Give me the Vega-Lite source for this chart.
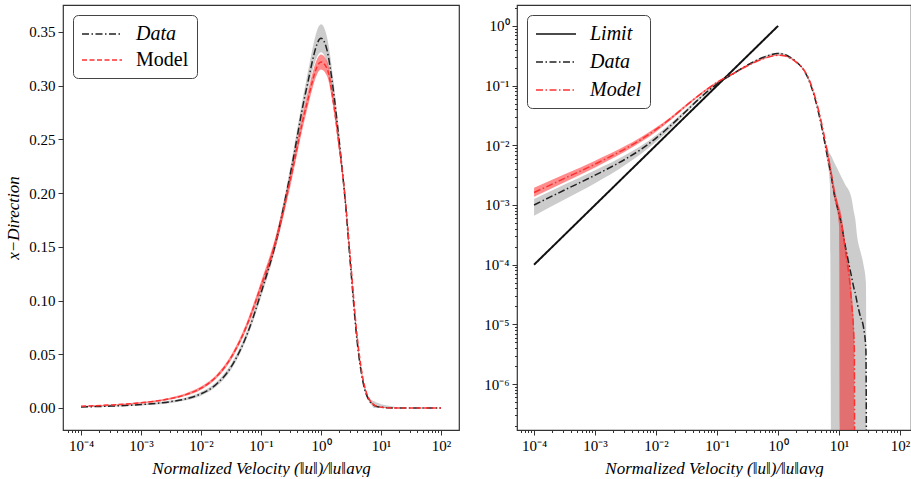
{
  "$schema": "https://vega.github.io/schema/vega-lite/v6.json",
  "background": "white",
  "padding": {"left": 4, "top": 4, "right": 0, "bottom": 0},
  "spacing": 23,
  "resolve": {"scale": {"color": "independent", "strokeDash": "independent"}, "legend": {"color": "independent", "strokeDash": "independent"}},
  "config": {
    "font": "Liberation Serif",
    "view": {"stroke": "#333", "strokeWidth": 1.2},
    "axis": {"grid": false, "domain": false, "labelFont": "Liberation Serif", "labelFontSize": 15, "labelColor": "black", "tickColor": "#333", "tickSize": 5, "labelPadding": 3, "titleFont": "Liberation Serif", "titleFontWeight": "normal", "titleColor": "black"}
  },
  "datasets": {
    "pdf": [
      {"x": 0.0001, "Data": 0.00100, "Model": 0.00162, "dlo": 0.00066, "dhi": 0.00126, "mlo": 0.00138, "mhi": 0.00194},
      {"x": 0.000316, "Data": 0.00178, "Model": 0.00279, "dlo": 0.00123, "dhi": 0.00221, "mlo": 0.0024, "mhi": 0.00326},
      {"x": 0.001, "Data": 0.00316, "Model": 0.00484, "dlo": 0.00231, "dhi": 0.00382, "mlo": 0.00426, "mhi": 0.00552},
      {"x": 0.00316, "Data": 0.00589, "Model": 0.00881, "dlo": 0.00471, "dhi": 0.00689, "mlo": 0.00793, "mhi": 0.00978},
      {"x": 0.005623, "Data": 0.00851, "Model": 0.01245, "dlo": 0.00715, "dhi": 0.0097, "mlo": 0.01133, "mhi": 0.01363},
      {"x": 0.01, "Data": 0.0132, "Model": 0.0184, "dlo": 0.01148, "dhi": 0.01478, "mlo": 0.01693, "mhi": 0.01987},
      {"x": 0.0178, "Data": 0.0219, "Model": 0.0288, "dlo": 0.0197, "dhi": 0.0239, "mlo": 0.0271, "mhi": 0.0305},
      {"x": 0.0316, "Data": 0.038, "Model": 0.0468, "dlo": 0.0353, "dhi": 0.0407, "mlo": 0.0445, "mhi": 0.0491},
      {"x": 0.0562, "Data": 0.066, "Model": 0.075, "dlo": 0.0627, "dhi": 0.0693, "mlo": 0.072, "mhi": 0.078},
      {"x": 0.1, "Data": 0.107, "Model": 0.1135, "dlo": 0.1027, "dhi": 0.1113, "mlo": 0.1095, "mhi": 0.1175},
      {"x": 0.178, "Data": 0.155, "Model": 0.156, "dlo": 0.150, "dhi": 0.160, "mlo": 0.151, "mhi": 0.161},
      {"x": 0.316, "Data": 0.221, "Model": 0.215, "dlo": 0.215, "dhi": 0.227, "mlo": 0.209, "mhi": 0.221},
      {"x": 0.562, "Data": 0.295, "Model": 0.280, "dlo": 0.288, "dhi": 0.303, "mlo": 0.273, "mhi": 0.287},
      {"x": 1.0, "Data": 0.344, "Model": 0.322, "dlo": 0.331, "dhi": 0.357, "mlo": 0.315, "mhi": 0.329},
      {"x": 1.259, "Data": 0.333, "Model": 0.316, "dlo": 0.321, "dhi": 0.345, "mlo": 0.309, "mhi": 0.323},
      {"x": 1.585, "Data": 0.298, "Model": 0.287, "dlo": 0.288, "dhi": 0.308, "mlo": 0.281, "mhi": 0.293},
      {"x": 1.995, "Data": 0.250, "Model": 0.245, "dlo": 0.242, "dhi": 0.258, "mlo": 0.240, "mhi": 0.250},
      {"x": 2.512, "Data": 0.195, "Model": 0.197, "dlo": 0.189, "dhi": 0.201, "mlo": 0.193, "mhi": 0.201},
      {"x": 3.162, "Data": 0.127, "Model": 0.132, "dlo": 0.122, "dhi": 0.132, "mlo": 0.129, "mhi": 0.135},
      {"x": 3.981, "Data": 0.063, "Model": 0.068, "dlo": 0.060, "dhi": 0.066, "mlo": 0.066, "mhi": 0.070},
      {"x": 5.012, "Data": 0.024, "Model": 0.027, "dlo": 0.022, "dhi": 0.027, "mlo": 0.026, "mhi": 0.028},
      {"x": 6.310, "Data": 0.0072, "Model": 0.0085, "dlo": 0.0058, "dhi": 0.0095, "mlo": 0.0078, "mhi": 0.0092},
      {"x": 7.079, "Data": 0.0040, "Model": 0.0045, "dlo": 0.0022, "dhi": 0.0072, "mlo": 0.0037, "mhi": 0.0053},
      {"x": 7.586, "Data": 0.0027, "Model": 0.0030, "dlo": 1e-10, "dhi": 0.0064, "mlo": 0.0024, "mhi": 0.0036},
      {"x": 7.943, "Data": 0.0020, "Model": 0.0022, "dlo": 1e-10, "dhi": 0.0057, "mlo": 0.0017, "mhi": 0.0027},
      {"x": 10.0, "Data": 0.00070, "Model": 0.00075, "dlo": 1e-10, "dhi": 0.00355, "mlo": 0.00045, "mhi": 0.00095},
      {"x": 10.47, "Data": 0.00058, "Model": 0.00062, "dlo": 1e-10, "dhi": 0.0032, "mlo": 1e-10, "mhi": 0.00082},
      {"x": 12.59, "Data": 0.00021, "Model": 0.00018, "dlo": 1e-10, "dhi": 0.0022, "mlo": 1e-10, "mhi": 0.00024},
      {"x": 15.85, "Data": 0.000066, "Model": 0.000026, "dlo": 1e-10, "dhi": 0.00135, "mlo": 1e-10, "mhi": 0.00004},
      {"x": 17.78, "Data": 0.000038, "Model": 0.0000037, "dlo": 1e-10, "dhi": 0.0007, "mlo": 1e-10, "mhi": 0.000006},
      {"x": 18.20, "Data": 0.000035, "Model": 1e-10, "dlo": 1e-10, "dhi": 0.00063, "mlo": 1e-10, "mhi": 1e-10},
      {"x": 19.95, "Data": 0.000022, "Model": 1e-10, "dlo": 1e-10, "dhi": 0.00028, "mlo": 1e-10, "mhi": 1e-10},
      {"x": 22.39, "Data": 0.0000135, "Model": 1e-10, "dlo": 1e-10, "dhi": 0.000166, "mlo": 1e-10, "mhi": 1e-10},
      {"x": 25.12, "Data": 0.000009, "Model": 1e-10, "dlo": 1e-10, "dhi": 0.0001, "mlo": 1e-10, "mhi": 1e-10},
      {"x": 27.54, "Data": 0.0000037, "Model": 1e-10, "dlo": 1e-10, "dhi": 0.00005, "mlo": 1e-10, "mhi": 1e-10},
      {"x": 28.84, "Data": 1e-10, "Model": 1e-10, "dlo": 1e-10, "dhi": 1e-10, "mlo": 1e-10, "mhi": 1e-10},
      {"x": 31.62, "Data": 1e-10, "Model": 1e-10, "dlo": 1e-10, "dhi": 1e-10, "mlo": 1e-10, "mhi": 1e-10},
      {"x": 100.0, "Data": 1e-10, "Model": 1e-10, "dlo": 1e-10, "dhi": 1e-10, "mlo": 1e-10, "mhi": 1e-10}
    ],
    "limit": [
      {"x": 0.0001, "val": 0.0001, "series": "Limit"},
      {"x": 1.0, "val": 1.0, "series": "Limit"}
    ]
  },
  "hconcat": [
    {
      "width": 396,
      "height": 425,
      "data": {"name": "pdf"},
      "resolve": {"axis": {"x": "independent", "y": "independent"}},
      "layer": [
        {
          "mark": {"type": "area", "color": "#999999", "opacity": 0.5, "clip": true, "interpolate": "monotone"},
          "encoding": {
            "x": {"field": "x", "type": "quantitative", "scale": {"type": "log", "domain": [0.0000501, 199.5], "nice": false},
              "axis": {"orient": "bottom", "values": [0.00006,0.00007,0.00008,0.00009,0.0002,0.0003,0.0004,0.0005,0.0006,0.0007,0.0008,0.0009,0.002,0.003,0.004,0.005,0.006,0.007,0.008,0.009,0.02,0.03,0.04,0.05,0.06,0.07,0.08,0.09,0.2,0.3,0.4,0.5,0.6,0.7,0.8,0.9,2,3,4,5,6,7,8,9,20,30,40,50,60,70,80,90], "labels": false, "tickSize": 2.5, "title": null}},
            "y": {"field": "dlo", "type": "quantitative", "scale": {"domain": [-0.0205, 0.375], "nice": false, "zero": false}, "axis": null},
            "y2": {"field": "dhi"}
          }
        },
        {
          "mark": {"type": "area", "color": "#ff0000", "opacity": 0.45, "clip": true, "interpolate": "monotone"},
          "encoding": {
            "x": {"field": "x", "type": "quantitative", "axis": null},
            "y": {"field": "mlo", "type": "quantitative", "axis": null},
            "y2": {"field": "mhi"}
          }
        },
        {
          "transform": [{"fold": ["Data", "Model"], "as": ["series", "val"]}],
          "mark": {"type": "line", "strokeWidth": 1.5, "clip": true, "interpolate": "monotone"},
          "encoding": {
            "x": {"field": "x", "type": "quantitative",
              "axis": {"orient": "bottom", "values": [0.0001, 0.001, 0.01, 0.1, 1, 10, 100], "labelExpr": "'10' + (datum.value < 1 ? '⁻' : '') + ['⁰','¹','²','³','⁴','⁵','⁶','⁷'][abs(round(log(datum.value)/LN10))]",
                "title": "Normalized Velocity (‖u‖)/‖u‖avg", "titleFontStyle": "italic", "titleFontSize": 17, "titlePadding": 7}},
            "y": {"field": "val", "type": "quantitative",
              "axis": {"orient": "left", "values": [0, 0.05, 0.1, 0.15, 0.2, 0.25, 0.3, 0.35], "format": ".2f", "title": "x−Direction", "titleFontStyle": "italic", "titleFontSize": 17, "titlePadding": 6}},
            "color": {"field": "series", "type": "nominal", "sort": ["Data", "Model"],
              "scale": {"domain": ["Data", "Model"], "range": ["#222222", "#ff3030"]},
              "legend": {"title": null, "orient": "top-left", "offset": 10, "symbolType": "M-1,0H3", "symbolSize": 400, "symbolStrokeWidth": 1.5, "labelFontSize": 20, "labelFont": "Liberation Serif", "labelOffset": 33, "padding": 8, "strokeColor": "#444", "cornerRadius": 5, "fillColor": "white", "rowPadding": 5,
                "encode": {"labels": {"update": {"fontStyle": {"signal": "datum.label === 'Data' ? 'italic' : 'normal'"}}}}}},
            "strokeDash": {"field": "series", "type": "nominal",
              "scale": {"domain": ["Data", "Model"], "range": [[7, 2.5, 1.5, 2.5], [5, 2.5]]}}
          }
        }
      ]
    },
    {
      "width": 394,
      "height": 425,
      "resolve": {"axis": {"x": "independent", "y": "independent"}},
      "layer": [
        {
          "data": {"name": "pdf"},
          "mark": {"type": "area", "color": "#999999", "opacity": 0.5, "clip": true, "interpolate": "monotone"},
          "encoding": {
            "x": {"field": "x", "type": "quantitative", "scale": {"type": "log", "domain": [0.0000525, 151], "nice": false},
              "axis": {"orient": "bottom", "values": [0.00006,0.00007,0.00008,0.00009,0.0002,0.0003,0.0004,0.0005,0.0006,0.0007,0.0008,0.0009,0.002,0.003,0.004,0.005,0.006,0.007,0.008,0.009,0.02,0.03,0.04,0.05,0.06,0.07,0.08,0.09,0.2,0.3,0.4,0.5,0.6,0.7,0.8,0.9,2,3,4,5,6,7,8,9,20,30,40,50,60,70,80,90], "labels": false, "tickSize": 2.5, "title": null}},
            "y": {"field": "dlo", "type": "quantitative", "scale": {"type": "log", "domain": [0.00000017, 2.24], "nice": false},
              "axis": {"orient": "left", "values": [0.0000002,0.0000003,0.0000004,0.0000005,0.0000006,0.0000007,0.0000008,0.0000009,0.000002,0.000003,0.000004,0.000005,0.000006,0.000007,0.000008,0.000009,0.00002,0.00003,0.00004,0.00005,0.00006,0.00007,0.00008,0.00009,0.0002,0.0003,0.0004,0.0005,0.0006,0.0007,0.0008,0.0009,0.002,0.003,0.004,0.005,0.006,0.007,0.008,0.009,0.02,0.03,0.04,0.05,0.06,0.07,0.08,0.09,0.2,0.3,0.4,0.5,0.6,0.7,0.8,0.9,2], "labels": false, "tickSize": 2.5, "title": null}},
            "y2": {"field": "dhi"}
          }
        },
        {
          "data": {"name": "pdf"},
          "mark": {"type": "area", "color": "#ff0000", "opacity": 0.45, "clip": true, "interpolate": "monotone"},
          "encoding": {
            "x": {"field": "x", "type": "quantitative", "axis": null},
            "y": {"field": "mlo", "type": "quantitative", "axis": null},
            "y2": {"field": "mhi"}
          }
        },
        {
          "data": {"name": "limit"},
          "mark": {"type": "line", "strokeWidth": 2, "clip": true},
          "encoding": {
            "x": {"field": "x", "type": "quantitative", "axis": null},
            "y": {"field": "val", "type": "quantitative", "axis": null},
            "color": {"field": "series", "type": "nominal"},
            "strokeDash": {"field": "series", "type": "nominal"}
          }
        },
        {
          "data": {"name": "pdf"},
          "transform": [{"fold": ["Data", "Model"], "as": ["series", "val"]}],
          "mark": {"type": "line", "strokeWidth": 1.5, "clip": true, "interpolate": "monotone"},
          "encoding": {
            "x": {"field": "x", "type": "quantitative",
              "axis": {"orient": "bottom", "values": [0.0001, 0.001, 0.01, 0.1, 1, 10, 100], "labelExpr": "'10' + (datum.value < 1 ? '⁻' : '') + ['⁰','¹','²','³','⁴','⁵','⁶','⁷'][abs(round(log(datum.value)/LN10))]",
                "title": "Normalized Velocity (‖u‖)/‖u‖avg", "titleFontStyle": "italic", "titleFontSize": 17, "titlePadding": 7}},
            "y": {"field": "val", "type": "quantitative",
              "axis": {"orient": "left", "values": [0.000001, 0.00001, 0.0001, 0.001, 0.01, 0.1, 1], "labelExpr": "'10' + (datum.value < 1 ? '⁻' : '') + ['⁰','¹','²','³','⁴','⁵','⁶','⁷'][abs(round(log(datum.value)/LN10))]", "title": null}},
            "color": {"field": "series", "type": "nominal",
              "scale": {"domain": ["Limit", "Data", "Model"], "range": ["#111111", "#222222", "#ff3030"]},
              "legend": {"title": null, "orient": "top-left", "offset": 10, "symbolType": "M-1,0H3", "symbolSize": 400, "symbolStrokeWidth": 1.5, "labelFontSize": 20, "labelFont": "Liberation Serif", "labelFontStyle": "italic", "labelOffset": 33, "padding": 8, "strokeColor": "#444", "cornerRadius": 5, "fillColor": "white", "rowPadding": 7}},
            "strokeDash": {"field": "series", "type": "nominal",
              "scale": {"domain": ["Limit", "Data", "Model"], "range": [[1, 0], [7, 2.5, 1.5, 2.5], [7, 2.5, 1.5, 2.5]]}}
          }
        }
      ]
    }
  ]
}
